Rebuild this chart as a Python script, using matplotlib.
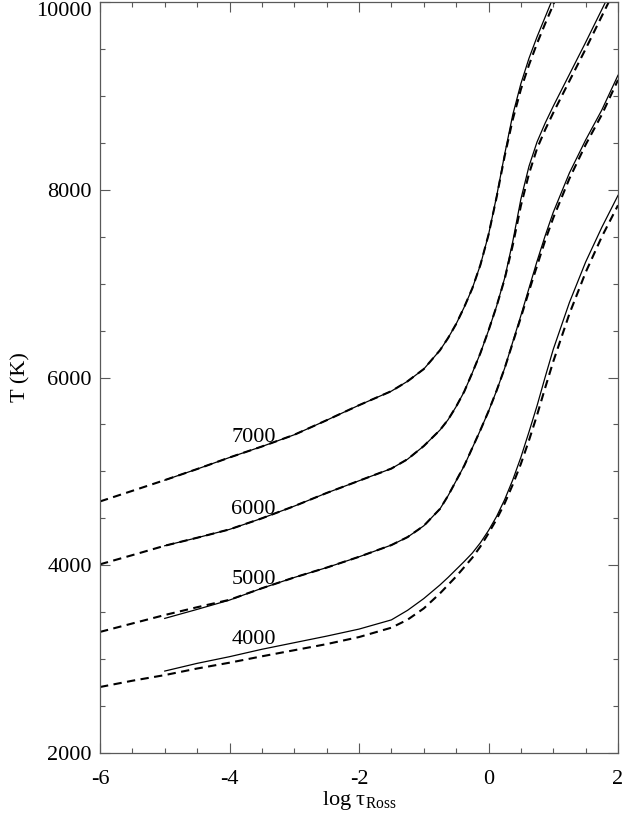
import numpy as np
import matplotlib
matplotlib.use("Agg")
from matplotlib import pyplot as plt
from matplotlib.ticker import MultipleLocator

plt.rcParams['font.family'] = ['Liberation Serif', 'DejaVu Serif']
plt.rcParams['mathtext.fontset'] = 'custom'
plt.rcParams['mathtext.rm'] = 'Liberation Serif'
plt.rcParams['mathtext.it'] = 'Liberation Serif:italic'
plt.rcParams['axes.unicode_minus'] = False

# log tau_Ross grid shared by all curves
log_tau = [-6, -5.5, -5, -4.5, -4, -3.5, -3, -2.5, -2, -1.5, -1.25, -1, -0.75, -0.625,
           -0.5, -0.375, -0.25, -0.125, 0, 0.125, 0.25, 0.375, 0.5, 0.625, 0.75,
           0.875, 1, 1.25, 1.5, 1.75, 2]
nan = np.nan

teff_labels = ['7000', '6000', '5000', '4000']

# solid curves
t7000_solid = [nan, nan, 4907, 5025, 5148, 5265, 5390, 5545, 5705, 5855, 5960, 6090, 6290, 6420,
               6570, 6750, 6950, 7200, 7520, 7930, 8380, 8800, 9130, 9400, 9630,
               9840, 10050, nan, nan, nan, nan]
t6000_solid = [nan, nan, 4208, 4293, 4382, 4500, 4630, 4770, 4900, 5030, 5130, 5270, 5440, 5550,
               5690, 5850, 6050, 6260, 6500, 6760, 7060, 7450, 7900, 8250, 8510,
               8710, 8890, 9230, 9570, 9920, 10270]
t5000_solid = [nan, nan, 3434, 3530, 3629, 3755, 3870, 3975, 4090, 4215, 4300, 4420, 4600, 4740,
               4900, 5060, 5250, 5440, 5640, 5860, 6100, 6380, 6660, 6950, 7240,
               7510, 7760, 8180, 8530, 8850, 9220]
t4000_solid = [nan, nan, 2873, 2955, 3026, 3105, 3175, 3245, 3320, 3418, 3520, 3645, 3790, 3870,
               3955, 4040, 4130, 4240, 4370, 4520, 4700, 4910, 5150, 5420, 5700,
               6005, 6300, 6800, 7230, 7600, 7940]

# dashed curves
t7000_dash = [4680, 4793, 4907, 5025, 5148, 5265, 5390, 5545, 5705, 5855, 5960, 6090, 6290, 6420,
              6570, 6750, 6950, 7200, 7520, 7920, 8360, 8750, 9070, 9330, 9560,
              9770, 9970, 10450, nan, nan, nan]
t6000_dash = [4010, 4108, 4208, 4293, 4382, 4500, 4630, 4770, 4900, 5030, 5130, 5270, 5440, 5550,
              5690, 5850, 6050, 6260, 6500, 6760, 7050, 7410, 7830, 8170, 8440,
              8640, 8820, 9160, 9500, 9850, 10200]
t5000_dash = [3290, 3380, 3470, 3553, 3632, 3755, 3870, 3975, 4090, 4215, 4300, 4420, 4600, 4740,
              4900, 5060, 5250, 5440, 5640, 5860, 6100, 6370, 6640, 6920, 7190,
              7460, 7700, 8120, 8480, 8800, 9170]
t4000_dash = [2703, 2770, 2830, 2900, 2962, 3030, 3095, 3160, 3235, 3335, 3420, 3540, 3700, 3790,
              3880, 3980, 4080, 4200, 4340, 4490, 4660, 4860, 5080, 5330, 5600,
              5890, 6170, 6680, 7120, 7500, 7835]

solids = [t7000_solid, t6000_solid, t5000_solid, t4000_solid]
dashes = [t7000_dash, t6000_dash, t5000_dash, t4000_dash]

fig = plt.figure(figsize=(6.25, 8.16), dpi=100)
ax = fig.add_axes([0.16, 0.0772, 0.8288, 0.9203])

x = np.array(log_tau)
label_x = -3.63
for name, ts, td in zip(teff_labels, solids, dashes):
    ts = np.array(ts, dtype=float)
    td = np.array(td, dtype=float)
    ax.plot(x, ts, color='black', lw=0.9)
    ax.plot(x, td, color='black', lw=1.5, linestyle=(0, (4, 2.6)))
    ok = ~np.isnan(ts)
    ylab = np.interp(label_x, x[ok], ts[ok])
    ax.annotate(name, (label_x, ylab), xytext=(0, 8.5), textcoords='offset points',
                ha='center', va='center', fontsize=16)

ax.set_xlim(-6, 2)
ax.set_ylim(2000, 10000)
ax.xaxis.set_major_locator(MultipleLocator(2))
ax.xaxis.set_minor_locator(MultipleLocator(0.5))
ax.yaxis.set_major_locator(MultipleLocator(2000))
ax.yaxis.set_minor_locator(MultipleLocator(500))
ax.tick_params(which='both', direction='in', top=True, right=True, color='0.35', width=0.8)
ax.tick_params(which='major', length=7.5, labelsize=16)
ax.tick_params(which='minor', length=3.8)
ax.tick_params(axis='x', which='major', pad=12)
ax.tick_params(axis='y', which='major', pad=6)
for s in ax.spines.values():
    s.set_color('0.35')
    s.set_linewidth(0.9)

ax.set_xlabel(r'log $\mathrm{τ}_{\mathrm{Ross}}$', fontsize=16, labelpad=0)
ax.set_ylabel('T (K)', fontsize=16, labelpad=4)

# keep the top label (10000) inside the figure
fig.canvas.draw()
for t in ax.yaxis.get_major_ticks():
    if abs(t.get_loc() - 10000) < 1:
        t.label1.set_verticalalignment('top')

fig.savefig('out.png', dpi=100)
